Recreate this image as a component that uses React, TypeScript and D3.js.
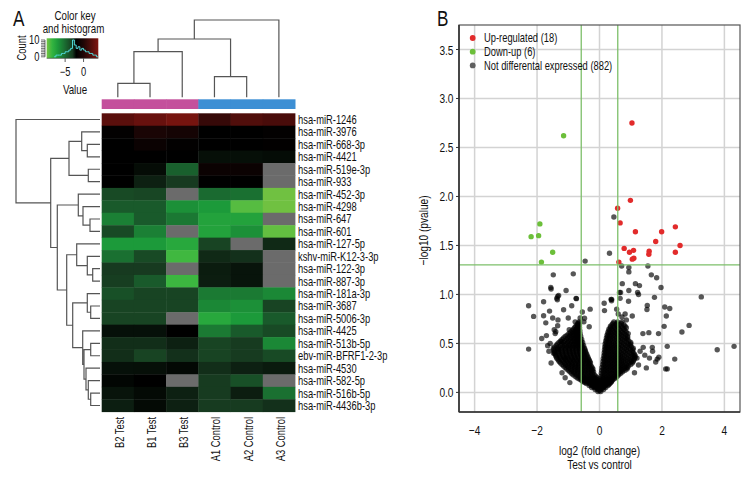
import React from 'react';
import * as d3 from 'd3';

const FONT = "'Liberation Sans', Arial, sans-serif";
const NARROW = 0.78;

// ---------- Panel A data ----------
const rowLabels = [
  'hsa-miR-1246', 'hsa-miR-3976', 'hsa-miR-668-3p', 'hsa-miR-4421', 'hsa-miR-519e-3p', 'hsa-miR-933',
  'hsa-miR-452-3p', 'hsa-miR-4298', 'hsa-miR-647', 'hsa-miR-601', 'hsa-miR-127-5p', 'kshv-miR-K12-3-3p',
  'hsa-miR-122-3p', 'hsa-miR-887-3p', 'hsa-miR-181a-3p', 'hsa-miR-3687', 'hsa-miR-5006-3p', 'hsa-miR-4425',
  'hsa-miR-513b-5p', 'ebv-miR-BFRF1-2-3p', 'hsa-miR-4530', 'hsa-miR-582-5p', 'hsa-miR-516b-5p', 'hsa-miR-4436b-3p',
];
const colLabels = ['B2 Test', 'B1 Test', 'B3 Test', 'A1 Control', 'A2 Control', 'A3 Control'];
const colGroups = ['Test', 'Test', 'Test', 'Control', 'Control', 'Control'];
const groupColors: Record<string, string> = { Test: '#c4509c', Control: '#3d8fd4' };

// expression values (null = missing)
const expr: (number | null)[][] = [
  [2.4, 3.0, 3.6, 0.9, 2.0, 1.7],
  [-1.8, -0.4, -0.7, -2.0, -2.0, -1.8],
  [-2.0, -1.3, -1.8, -2.0, -2.0, -1.9],
  [-2.0, -2.0, -2.0, -2.26, -2.26, -2.2],
  [-2.0, -2.2, -4.6, -1.3, -1.3, null],
  [-2.0, -2.55, -3.0, -2.0, -2.0, null],
  [-3.67, -3.5, null, -5.0, -5.25, -9.9],
  [-4.33, -4.33, -6.6, -7.0, -9.3, -9.9],
  [-5.9, -4.33, -5.6, -7.44, -7.44, null],
  [-3.67, -5.9, null, -7.44, -6.6, -9.6],
  [-7.0, -7.0, -7.8, -3.42, null, -2.7],
  [-5.25, -3.67, -8.8, -2.7, -2.83, null],
  [-3.0, -3.0, null, -2.48, -2.34, null],
  [-3.15, -4.33, -8.7, -2.5, -2.34, null],
  [-3.9, -3.42, -3.42, -5.67, -5.67, -6.25],
  [-3.42, -3.42, -3.42, -6.25, -6.6, -3.42],
  [-3.42, -3.42, null, -7.8, -7.0, -4.33],
  [-2.28, -2.28, -2.0, -5.67, -4.33, -3.67],
  [-2.79, -2.79, -2.55, -3.42, -3.05, -6.25],
  [-2.79, -3.42, -2.83, -3.42, -3.05, -3.67],
  [-2.28, -2.26, -2.14, -2.79, -2.55, -2.45],
  [-2.1, -2.0, null, -3.05, -3.9, null],
  [-2.34, -2.17, -2.55, -3.05, -2.5, -5.25],
  [-2.52, -2.17, -2.55, -3.05, -3.05, -2.83],
];

// dendrograms: leaf index, or [left, right, height]
type TreeNode = number | [TreeNode, TreeNode, number];
const rowTree: TreeNode = [
  0,
  [
    [[1, [2, 3, 1.27], 1.83], [4, 5, 1.17], 3.1],
    [
      [6, [7, [8, 9, 1.0], 1.7], 2.17],
      [
        [10, [11, [12, 13, 0.73], 1.27], 2.33],
        [
          [14, [15, 16, 0.93], 1.27],
          [17, [[18, 19, 0.93], [20, [21, [22, 23, 0.93], 1.17], 1.4], 1.6], 1.73],
          2.73,
        ],
        3.33,
      ],
      4.27,
    ],
    4.93,
  ],
  8.4,
];
const colTree: TreeNode = [[[[0, 1, 1.4], 2, 4.56], [3, 4, 2.06], 5.83], 5, 7.73];

// colour key
const keyStops = [-10, -8.5, -7, -5, -3, -2, 0, 4];
const keyColors = ['#74c241', '#33b540', '#1c9a3a', '#1a6a30', '#173a20', '#000000', '#200606', '#801510'];
const naColor = '#6b6b6b';
const keyTicks = [-5, 0];
const countTicks = [0, 10];
const histBinStarts = [-8, -7.5, -7, -6.5, -6, -5.5, -5, -4.5, -4, -3.5, -3, -2.5, -2, -1.5, -1, -0.5, 0, 0.5, 1, 1.5, 2, 2.5, 3, 3.5];
const histCounts = [0, 1, 1, 1, 2, 2, 3, 3, 4, 5, 10, 7, 5, 6, 4, 5, 4, 3, 3, 2, 2, 1, 1, 0];

// ---------- Panel B data ----------
const upPoints: [number, number][] = [
  [1.04, 2.75], [0.99, 1.96], [0.58, 1.88], [0.66, 1.73], [1.15, 1.64], [1.99, 1.64], [2.43, 1.69],
  [1.8, 1.54], [2.58, 1.5], [0.79, 1.47], [0.96, 1.43], [1.09, 1.45], [1.59, 1.44], [1.58, 1.41],
  [2.43, 1.43], [1.1, 1.37], [1.05, 1.36], [0.62, 1.33],
];
const downPoints: [number, number][] = [
  [-1.15, 2.62], [-1.91, 1.72], [-1.95, 1.6], [-2.19, 1.59], [-1.5, 1.43], [-1.86, 1.33],
];
const graySparse: [number, number][] = [
  [0.46, 1.79], [0.32, 1.42], [-0.46, 1.34], [-1.48, 1.2], [-0.84, 1.21], [-1.56, 1.07], [-1.07, 1.04],
  [-2.27, 0.885], [-2.11, 0.776], [-2.27, 0.442], [-1.79, 0.925], [-1.79, 0.782], [-1.55, 1.055], [-1.35, 0.946],
  [-1.34, 0.98], [-1.15, 0.844], [-0.89, 0.885], [-0.74, 0.957], [-0.48, 0.758], [-0.33, 0.67],
  [0.15, 0.91], [0.386, 0.935], [0.16, 0.835], [0.675, 1.02], [0.73, 1.11], [0.94, 1.23], [0.94, 1.275],
  [0.94, 1.04], [0.93, 0.93], [1.15, 1.11], [1.28, 1.09], [1.22, 1.02], [1.25, 1.0], [0.71, 1.29],
  [1.55, 1.29], [1.53, 0.888], [1.52, 0.846], [1.66, 1.2], [1.83, 1.17], [1.97, 1.07], [1.76, 0.97],
  [2.09, 0.871], [2.25, 0.857], [2.14, 0.78], [2.07, 0.674], [2.87, 0.684], [2.64, 0.616], [3.26, 0.975],
  [3.77, 0.436], [4.31, 0.47], [2.41, 0.34], [2.17, 0.24], [2.12, 0.24], [2.17, 0.47], [1.9, 0.36],
  [1.89, 0.6], [1.58, 0.61], [1.39, 0.6], [1.8, 0.31], [1.69, 0.46], [0.39, 0.95], [0.66, 0.96],
  [0.64, 1.02], [0.37, 0.95], [-0.75, 0.96], [-1.31, 0.99], [-1.37, 0.96],
  [-1.66, 0.477], [-1.58, 0.5], [-1.45, 0.64], [-1.42, 0.6], [-1.4, 0.62], [-1.33, 0.74], [-1.34, 0.68],
  [-1.22, 0.52], [-1.47, 0.4], [-1.32, 0.44], [-1.08, 0.35], [-0.97, 0.64], [-0.71, 0.645], [-0.65, 0.71],
  [-0.78, 0.72], [-1.72, 0.71], [-1.6, 0.83], [-1.5, 0.76], [-1.85, 0.55], [-1.7, 0.58], [-1.62, 0.42],
  [-1.55, 0.3], [-1.2, 0.2], [-1.1, 0.15], [-0.95, 0.1], [1.3, 0.42], [1.45, 0.38], [1.6, 0.35],
  [1.5, 0.25], [1.25, 0.28], [1.4, 0.46], [1.7, 0.42], [1.85, 0.34], [1.2, 0.35], [1.12, 0.2],
  [0.82, 0.8], [1.05, 0.78], [0.55, 0.85], [-0.55, 0.82], [-1.0, 0.76], [-0.3, 0.85],
  [-0.62, 0.76], [-0.5, 0.72], [0.6, 0.8], [0.72, 0.77], [0.86, 0.74], [-0.7, 0.68],
];
// dense core, by pvalue row
const grayRows: [number, number[]][] = [
  [0.01, [-0.05, 0.04]],
  [0.02, [0.0]],
  [0.03, [-0.14, -0.05, 0.05, 0.13]],
  [0.045, [-0.1, 0.0, 0.09]],
  [0.05, [-0.25, -0.16, -0.07, 0.02, 0.11, 0.2]],
  [0.06, [-0.2, -0.11, -0.02, 0.07, 0.16]],
  [0.07, [-0.33, -0.23, -0.13, -0.03, 0.07, 0.17, 0.27]],
  [0.08, [-0.28, -0.18, -0.08, 0.02, 0.12, 0.22, 0.3]],
  [0.09, [-0.42, -0.31, -0.2, -0.09, 0.02, 0.13, 0.24, 0.33]],
  [0.10, [-0.47, -0.36, -0.25, -0.14, -0.03, 0.08, 0.19, 0.29, 0.36]],
  [0.11, [-0.52, -0.41, -0.3, -0.19, -0.08, 0.05, 0.17, 0.28, 0.38]],
  [0.12, [-0.56, -0.46, -0.35, -0.24, -0.13, 0.0, 0.11, 0.23, 0.33, 0.4]],
  [0.13, [-0.6, -0.49, -0.38, -0.27, -0.16, -0.07, 0.08, 0.2, 0.31, 0.42]],
  [0.14, [-0.66, -0.55, -0.44, -0.33, -0.22, -0.12, 0.02, 0.14, 0.26, 0.37, 0.47]],
  [0.15, [-0.72, -0.6, -0.49, -0.38, -0.27, -0.16, -0.08, 0.1, 0.21, 0.32, 0.43, 0.52]],
  [0.165, [-0.78, -0.66, -0.55, -0.44, -0.33, -0.22, -0.12, 0.05, 0.16, 0.27, 0.38, 0.48, 0.57]],
  [0.18, [-0.85, -0.73, -0.61, -0.5, -0.39, -0.28, -0.17, 0.11, 0.22, 0.33, 0.44, 0.55, 0.62]],
  [0.195, [-0.9, -0.79, -0.67, -0.56, -0.45, -0.34, -0.23, 0.06, 0.17, 0.28, 0.39, 0.5, 0.6, 0.68]],
  [0.21, [-0.95, -0.83, -0.71, -0.6, -0.49, -0.38, -0.27, -0.19, 0.12, 0.23, 0.34, 0.45, 0.56, 0.66, 0.74]],
  [0.225, [-1.0, -0.89, -0.77, -0.66, -0.55, -0.44, -0.33, -0.23, 0.07, 0.18, 0.29, 0.4, 0.51, 0.62, 0.72, 0.82]],
  [0.24, [-1.05, -0.93, -0.81, -0.7, -0.59, -0.48, -0.37, -0.27, -0.21, 0.13, 0.24, 0.35, 0.46, 0.57, 0.68, 0.78, 0.88]],
  [0.255, [-1.1, -0.99, -0.87, -0.76, -0.65, -0.54, -0.43, -0.32, -0.24, 0.08, 0.19, 0.3, 0.41, 0.52, 0.63, 0.74, 0.85, 0.9]],
  [0.27, [-1.15, -1.03, -0.91, -0.8, -0.69, -0.58, -0.47, -0.36, -0.27, 0.14, 0.25, 0.36, 0.47, 0.58, 0.69, 0.8, 0.92]],
  [0.285, [-1.2, -1.08, -0.97, -0.86, -0.75, -0.64, -0.53, -0.42, -0.32, 0.1, 0.2, 0.31, 0.42, 0.53, 0.64, 0.75, 0.87, 1.0]],
  [0.30, [-1.25, -1.12, -1.0, -0.89, -0.78, -0.67, -0.56, -0.45, -0.35, -0.29, 0.15, 0.26, 0.37, 0.48, 0.59, 0.7, 0.82, 0.95, 1.05]],
  [0.315, [-1.29, -1.16, -1.04, -0.93, -0.82, -0.71, -0.6, -0.5, -0.4, -0.31, 0.11, 0.21, 0.32, 0.43, 0.54, 0.65, 0.77, 0.9, 1.02, 1.08]],
  [0.33, [-1.32, -1.2, -1.08, -0.96, -0.85, -0.74, -0.63, -0.52, -0.42, -0.33, 0.16, 0.27, 0.38, 0.49, 0.6, 0.71, 0.84, 0.98, 1.1]],
  [0.345, [-1.36, -1.24, -1.12, -1.0, -0.88, -0.78, -0.67, -0.56, -0.46, -0.36, 0.12, 0.22, 0.33, 0.44, 0.55, 0.66, 0.78, 0.91, 1.05, 1.12]],
  [0.36, [-1.38, -1.26, -1.14, -1.02, -0.9, -0.79, -0.68, -0.57, -0.47, -0.37, 0.17, 0.28, 0.39, 0.5, 0.61, 0.72, 0.86, 1.0, 1.14]],
  [0.375, [-1.4, -1.28, -1.16, -1.04, -0.92, -0.81, -0.7, -0.59, -0.49, -0.4, 0.14, 0.23, 0.34, 0.45, 0.56, 0.67, 0.8, 0.94, 1.08, 1.14]],
  [0.39, [-1.42, -1.3, -1.18, -1.06, -0.94, -0.83, -0.72, -0.61, -0.5, -0.41, 0.18, 0.29, 0.4, 0.51, 0.62, 0.74, 0.88, 1.02, 1.12]],
  [0.405, [-1.44, -1.31, -1.19, -1.07, -0.95, -0.84, -0.73, -0.62, -0.52, -0.44, 0.15, 0.24, 0.35, 0.46, 0.57, 0.69, 0.82, 0.96, 1.08]],
  [0.42, [-1.45, -1.32, -1.2, -1.08, -0.96, -0.85, -0.74, -0.63, -0.53, -0.45, 0.19, 0.3, 0.41, 0.52, 0.64, 0.78, 0.9, 1.05]],
  [0.435, [-1.47, -1.34, -1.21, -1.09, -0.97, -0.86, -0.75, -0.64, -0.55, -0.47, 0.16, 0.25, 0.36, 0.47, 0.59, 0.72, 0.86, 0.99, 1.07]],
  [0.45, [-1.48, -1.35, -1.22, -1.1, -0.98, -0.87, -0.76, -0.65, -0.56, -0.48, 0.2, 0.31, 0.42, 0.54, 0.66, 0.8, 0.94, 1.08]],
  [0.465, [-1.44, -1.3, -1.17, -1.05, -0.93, -0.82, -0.72, -0.62, -0.54, 0.17, 0.26, 0.37, 0.49, 0.61, 0.74, 0.88, 1.02]],
  [0.48, [-1.38, -1.24, -1.11, -0.99, -0.88, -0.77, -0.67, -0.58, -0.51, 0.21, 0.32, 0.44, 0.56, 0.7, 0.84, 0.98]],
  [0.495, [-1.35, -1.2, -1.07, -0.95, -0.84, -0.74, -0.65, -0.57, 0.18, 0.27, 0.39, 0.51, 0.64, 0.78, 0.92, 1.0]],
  [0.51, [-1.3, -1.16, -1.03, -0.91, -0.8, -0.7, -0.61, -0.54, 0.22, 0.33, 0.45, 0.58, 0.72, 0.86, 1.0]],
  [0.525, [-1.25, -1.11, -0.99, -0.87, -0.77, -0.68, -0.6, 0.2, 0.29, 0.4, 0.53, 0.66, 0.8, 0.94]],
  [0.54, [-1.2, -1.06, -0.94, -0.83, -0.73, -0.64, -0.57, 0.24, 0.35, 0.47, 0.6, 0.74, 0.88]],
  [0.555, [-1.15, -1.01, -0.9, -0.8, -0.71, -0.63, 0.22, 0.31, 0.42, 0.55, 0.68, 0.82, 0.9]],
  [0.57, [-1.1, -0.97, -0.86, -0.76, -0.67, -0.6, 0.26, 0.37, 0.49, 0.62, 0.76, 0.9]],
  [0.585, [-1.04, -0.92, -0.82, -0.73, -0.66, 0.24, 0.33, 0.44, 0.57, 0.7, 0.84]],
  [0.60, [-0.98, -0.87, -0.77, -0.69, -0.62, 0.28, 0.4, 0.52, 0.65, 0.78, 0.92]],
  [0.615, [-0.93, -0.83, -0.74, -0.67, 0.27, 0.36, 0.47, 0.59, 0.72, 0.86]],
  [0.63, [-0.88, -0.78, -0.7, -0.63, 0.31, 0.43, 0.55, 0.68, 0.82]],
  [0.645, [-0.84, -0.75, -0.68, 0.3, 0.4, 0.51, 0.64, 0.78]],
  [0.66, [-0.8, -0.71, -0.64, 0.35, 0.47, 0.6, 0.74, 0.86]],
  [0.675, [-0.76, -0.68, 0.35, 0.44, 0.56, 0.7, 0.82]],
  [0.69, [-0.72, -0.64, 0.4, 0.52, 0.65, 0.78]],
  [0.705, [-0.69, 0.43, 0.55, 0.7]],
  [0.72, [-0.66, 0.46, 0.58, 0.72]],
];
const fcThreshold = Math.log2(1.5);
const pThreshold = -Math.log10(0.05);
const xTicks = [-4, -2, 0, 2, 4];
const yTicks = [0, 0.5, 1, 1.5, 2, 2.5, 3, 3.5];
const legendLabels = ['Up-regulated (18)', 'Down-up (6)', 'Not differental expressed (882)'];
const legendColors = ['#e22b2b', '#6cbf3a', '#5f5f5f'];

function dendro(
  node: TreeNode,
  leafPos: (i: number) => number,
  hPos: (h: number) => number,
  horizontal: boolean,
  segs: string[],
): { p: number; h: number } {
  if (typeof node === 'number') return { p: leafPos(node), h: 0 };
  const a = dendro(node[0], leafPos, hPos, horizontal, segs);
  const b = dendro(node[1], leafPos, hPos, horizontal, segs);
  const hp = hPos(node[2]);
  if (horizontal) segs.push(`M${hPos(a.h)},${a.p}H${hp}V${b.p}H${hPos(b.h)}`);
  else segs.push(`M${a.p},${hPos(a.h)}V${hp}H${b.p}V${hPos(b.h)}`);
  return { p: (a.p + b.p) / 2, h: node[2] };
}

type TProps = {
  x: number;
  y: number;
  size: number;
  rot?: number;
  anchor?: 'start' | 'middle' | 'end';
  baseline?: string;
  children: React.ReactNode;
};
function T({ x, y, size, rot = 0, anchor = 'start', baseline, children }: TProps) {
  return (
    <text
      transform={`translate(${x},${y})${rot ? ` rotate(${rot})` : ''} scale(${NARROW},1)`}
      fontSize={size}
      textAnchor={anchor}
      dominantBaseline={baseline}
      fill="#111"
    >
      {children}
    </text>
  );
}

const fmt = (t: number) => (t < 0 ? `\u2212${-t}` : `${t}`);

export default function App() {
  // heatmap scales
  const hx = d3.scaleBand<string>().domain(colLabels).range([101.7, 295]);
  const hy = d3.scaleBand<string>().domain(rowLabels).range([113.3, 411.7]);
  const color = d3.scaleLinear<string>().domain(keyStops).range(keyColors).interpolate(d3.interpolateRgb).clamp(true);

  const rowSegs: string[] = [];
  const rdx = d3.scaleLinear().domain([0, 8.4]).range([100, 16]);
  dendro(rowTree, (i) => (hy(rowLabels[i]) as number) + hy.bandwidth() / 2, rdx, true, rowSegs);
  const colSegs: string[] = [];
  const cdy = d3.scaleLinear().domain([0, 7.73]).range([97.3, 20]);
  dendro(colTree, (i) => (hx(colLabels[i]) as number) + hx.bandwidth() / 2, cdy, false, colSegs);

  // key scales
  const kx = d3.scaleLinear().domain([-10, 4]).range([46.7, 98.3]);
  const ky = d3.scaleLinear().domain([0, 10]).range([56.8, 40]);
  const histPts: [number, number][] = histBinStarts.map((s, i) => [s, histCounts[i]]);
  histPts.push([4, 0]);
  const histLine = d3.line<[number, number]>().x((d) => kx(d[0])).y((d) => ky(d[1])).curve(d3.curveStepAfter)(histPts) || '';
  const gradStops = d3.range(-10, 4.01, 0.5);

  // volcano scales
  const vx = d3.scaleLinear().domain([-4.5, 4.5]).range([459, 740]);
  const vy = d3.scaleLinear().domain([-0.2, 3.75]).range([412, 25]);
  const grayPts: [number, number][] = [...graySparse];
  grayRows.forEach(([p, xs]) => xs.forEach((x) => grayPts.push([x, p])));

  const [vx0, vx1] = vx.range();
  const [vy0, vy1] = vy.range();

  return (
    <svg width={756} height={480} style={{ position: 'absolute', left: 0, top: 0, background: '#fff' }} fontFamily={FONT}>
      <defs>
        <linearGradient id="keyGrad" x1="0" x2="1" y1="0" y2="0">
          {gradStops.map((v) => (
            <stop key={v} offset={(v + 10) / 14} stopColor={color(v)} />
          ))}
        </linearGradient>
        <clipPath id="plotClip">
          <rect x={vx0} y={vy1} width={vx1 - vx0} height={vy0 - vy1} />
        </clipPath>
      </defs>

      {/* ---------------- Panel A ---------------- */}
      <T x={13} y={26} size={22}>A</T>

      {/* colour key */}
      <T x={75} y={19.5} size={12.5} anchor="middle">Color key</T>
      <T x={73.5} y={33} size={12.5} anchor="middle">and histogram</T>
      <rect x={kx(-10)} y={38.3} width={kx(4) - kx(-10)} height={20} fill="url(#keyGrad)" />
      <path d={histLine} fill="none" stroke="#4fd4d4" strokeWidth={1} />
      {d3.range(0, 11).map((c) => (
        <line key={c} x1={41} x2={45} y1={ky(c)} y2={ky(c)} stroke="#333" strokeWidth={0.7} />
      ))}
      <line x1={45} x2={45} y1={ky(0)} y2={ky(10)} stroke="#333" strokeWidth={0.7} />
      {countTicks.map((c) => (
        <T key={c} x={39.5} y={ky(c)} size={12} anchor="end" baseline="central">{c}</T>
      ))}
      <T x={22} y={48} size={12} rot={-90} anchor="middle" baseline="central">Count</T>
      {keyTicks.map((t) => (
        <g key={t}>
          <line x1={kx(t)} x2={kx(t)} y1={58.3} y2={62} stroke="#333" strokeWidth={0.8} />
          <T x={kx(t)} y={75.5} size={12} anchor="middle">{fmt(t)}</T>
        </g>
      ))}
      <line x1={kx(-10)} x2={kx(4)} y1={58.3} y2={58.3} stroke="#333" strokeWidth={0.6} />
      <T x={75} y={94} size={12.5} anchor="middle">Value</T>

      {/* column dendrogram */}
      <path d={colSegs.join('')} fill="none" stroke="#555" strokeWidth={1.2} />
      {/* row dendrogram */}
      <path d={rowSegs.join('')} fill="none" stroke="#555" strokeWidth={1.2} />

      {/* column side colours */}
      {colLabels.map((c, j) => (
        <rect key={c} x={hx(c)} y={99.3} width={hx.bandwidth() + 0.5} height={9.7} fill={groupColors[colGroups[j]]} />
      ))}

      {/* heatmap cells */}
      {expr.map((row, i) =>
        row.map((v, j) => (
          <rect
            key={`${i}-${j}`}
            x={hx(colLabels[j])}
            y={hy(rowLabels[i])}
            width={hx.bandwidth() + 0.4}
            height={hy.bandwidth() + 0.4}
            fill={v === null ? naColor : color(v)}
          />
        )),
      )}

      {/* row labels */}
      {rowLabels.map((r) => (
        <T key={r} x={298} y={(hy(r) as number) + hy.bandwidth() / 2} size={12} baseline="central">{r}</T>
      ))}
      {/* column labels */}
      {colLabels.map((c) => (
        <T key={c} x={(hx(c) as number) + hx.bandwidth() / 2 + 1.5} y={417} size={12} rot={-90} anchor="end" baseline="central">{c}</T>
      ))}

      {/* ---------------- Panel B ---------------- */}
      <T x={437} y={26} size={22}>B</T>

      {/* grid */}
      {xTicks.map((t) => (
        <line key={`gx${t}`} x1={vx(t)} x2={vx(t)} y1={vy1} y2={vy0} stroke="#d3d3d3" strokeWidth={1.5} />
      ))}
      {yTicks.map((t) => (
        <line key={`gy${t}`} x1={vx0} x2={vx1} y1={vy(t)} y2={vy(t)} stroke="#d3d3d3" strokeWidth={1.5} />
      ))}

      <g clipPath="url(#plotClip)">
        {grayPts.map((d, i) => (
          <circle key={`g${i}`} cx={vx(d[0])} cy={vy(d[1])} r={2.7} fill="#000" fillOpacity={0.66} />
        ))}
        {upPoints.map((d, i) => (
          <circle key={`u${i}`} cx={vx(d[0])} cy={vy(d[1])} r={2.7} fill={legendColors[0]} />
        ))}
        {downPoints.map((d, i) => (
          <circle key={`d${i}`} cx={vx(d[0])} cy={vy(d[1])} r={2.7} fill={legendColors[1]} />
        ))}
      </g>

      {/* threshold lines */}
      {[-fcThreshold, fcThreshold].map((t) => (
        <line key={`fc${t}`} x1={vx(t)} x2={vx(t)} y1={vy1} y2={vy0} stroke="#7dbf6a" strokeWidth={1.3} />
      ))}
      <line x1={vx0} x2={vx1} y1={vy(pThreshold)} y2={vy(pThreshold)} stroke="#7dbf6a" strokeWidth={1.3} />

      {/* frame */}
      <rect x={vx0} y={vy1} width={vx1 - vx0} height={vy0 - vy1} fill="none" stroke="#555" strokeWidth={1.2} />
      <line x1={vx0} x2={vx0} y1={vy1} y2={vy0} stroke="#333" strokeWidth={1.6} />
      <line x1={vx0} x2={vx1} y1={vy0} y2={vy0} stroke="#333" strokeWidth={1.6} />

      {/* axes */}
      {yTicks.map((t) => (
        <g key={`yt${t}`}>
          <line x1={vx0 - 3} x2={vx0} y1={vy(t)} y2={vy(t)} stroke="#333" strokeWidth={1} />
          <T x={vx0 - 5.5} y={vy(t)} size={13} anchor="end" baseline="central">{t.toFixed(1)}</T>
        </g>
      ))}
      {xTicks.map((t) => (
        <T key={`xt${t}`} x={vx(t)} y={434.5} size={13} anchor="middle">{fmt(t)}</T>
      ))}
      <T x={423} y={(vy0 + vy1) / 2 + 12} size={13} rot={-90} anchor="middle" baseline="central">{'\u2212log10 (pvalue)'}</T>
      <T x={(vx0 + vx1) / 2} y={455} size={13} anchor="middle">log2 (fold change)</T>
      <T x={(vx0 + vx1) / 2} y={468.5} size={13} anchor="middle">Test vs control</T>

      {/* legend */}
      {legendLabels.map((l, i) => (
        <g key={l}>
          <circle cx={472.7} cy={38 + i * 13.7} r={2.9} fill={legendColors[i]} />
          <T x={484} y={38 + i * 13.7} size={12} baseline="central">{l}</T>
        </g>
      ))}
    </svg>
  );
}
